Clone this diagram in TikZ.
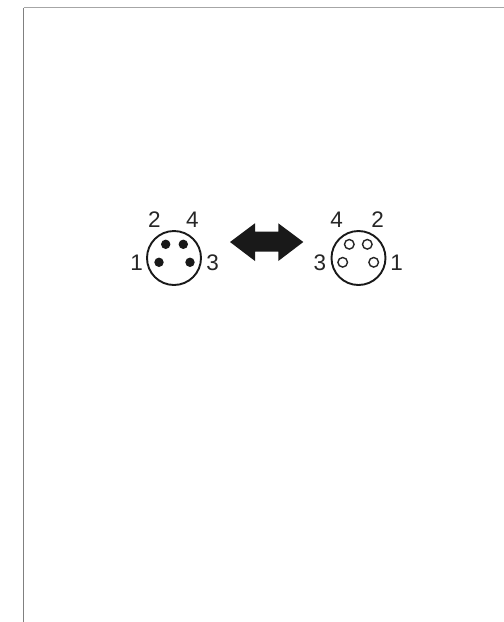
\documentclass[tikz,border=0pt]{standalone}
\usepackage{fontspec}
\setmainfont{Liberation Sans}
\tikzset{
  housing/.style={circle,draw=black!90,line width=1.9pt,minimum size=54pt,inner sep=0pt},
  pinfull/.style={circle,fill=black!90,draw=none,minimum size=9.4pt,inner sep=0pt},
  pinopen/.style={circle,draw=black!85,line width=1.4pt,fill=white,minimum size=9.6pt,inner sep=0pt},
  digit/.style={inner sep=0pt,text=black!85,font=\fontsize{22.5}{23}\selectfont},
  frameline/.style={line width=1pt},
}
\begin{document}
\begin{tikzpicture}[x=1pt,y=-1pt]
\useasboundingbox (0,0) rectangle (504,622);
\fill[white] (0,0) rectangle (504,622);
% page frame
\coordinate (fa) at (504,7.5);
\coordinate (fb) at (23.5,7.5);
\coordinate (fc) at (23.5,622);
\draw[frameline,color=black!35] (fa) -- (fb);
\draw[frameline,color=black!50] (fb) -- (fc);
% left connector
\node[housing] (lc) at (174,258) {};
\node[pinfull] (l2) at (165.7,244.3) {};
\node[pinfull] (l4) at (183.3,244.3) {};
\node[pinfull] (l1) at (159,262.3) {};
\node[pinfull] (l3) at (190,262.3) {};
\node[digit] (lt2) at (154.3,220) {2};
\node[digit] (lt4) at (192.3,220) {4};
\node[digit] (lt1) at (136.7,262.3) {1};
\node[digit] (lt3) at (212.7,262.3) {3};
% right connector
\node[housing] (rc) at (358.5,258) {};
\node[pinopen] (r4) at (349.3,244.3) {};
\node[pinopen] (r2) at (367.3,244.3) {};
\node[pinopen] (r3) at (342.7,262.3) {};
\node[pinopen] (r1) at (373.7,262.3) {};
\node[digit] (rt4) at (336.7,220) {4};
\node[digit] (rt2) at (377.7,220) {2};
\node[digit] (rt3) at (320,262.3) {3};
\node[digit] (rt1) at (396.7,262.3) {1};
% double arrow
\fill[black!90] (230,242) -- (255,223.3) -- (255,231.7) -- (278.3,231.7) -- (278.3,223.3)
  -- (303.3,242) -- (278.3,261) -- (278.3,251.7) -- (255,251.7) -- (255,261) -- cycle;
\end{tikzpicture}
\end{document}
